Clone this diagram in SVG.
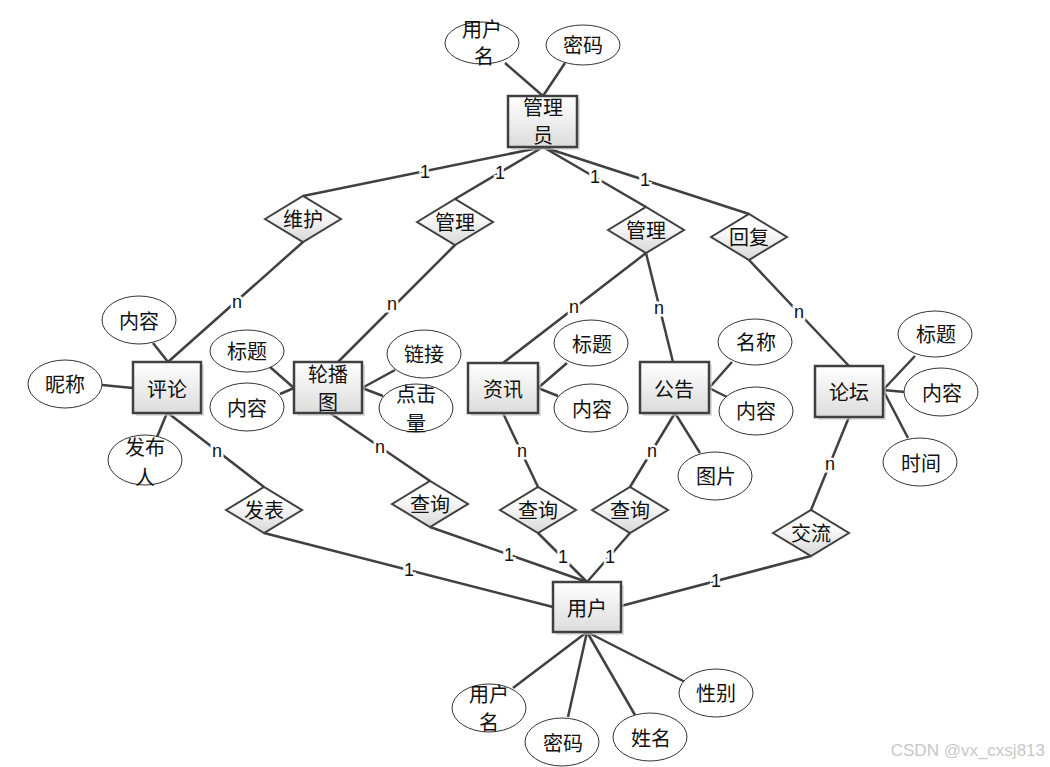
<svg xmlns="http://www.w3.org/2000/svg" width="1050" height="767" viewBox="0 0 1050 767">
<defs>
<linearGradient id="gEnt" x1="0" y1="0" x2="0" y2="1"><stop offset="0" stop-color="#ffffff"/><stop offset="1" stop-color="#dcdcdc"/></linearGradient>
<linearGradient id="gRel" x1="0" y1="0" x2="0" y2="1"><stop offset="0.3" stop-color="#ffffff"/><stop offset="1" stop-color="#d8d8d8"/></linearGradient>
<style>
.ent rect.b{fill:url(#gEnt);stroke:#404040;stroke-width:2.5}
.ent rect.s{fill:#c8c8c8;opacity:0.6}
.rel polygon{fill:url(#gRel);stroke:#404040;stroke-width:2}
.att ellipse{fill:#fff;stroke:#333;stroke-width:1}
text.cn{font-family:"Noto Sans CJK SC",sans-serif;font-size:20px;fill:#111;text-anchor:middle;dominant-baseline:central}
#conns line{stroke:#404040;stroke-width:2.5}
text.lb{font-family:"Liberation Sans",sans-serif;font-size:18px;fill:#111;text-anchor:middle;dominant-baseline:central;stroke:#fff;stroke-width:5;paint-order:stroke}
</style>
</defs>
<rect width="1050" height="767" fill="#fff"/>
<g id="conns">
<line x1="505" y1="63" x2="543" y2="96"/>
<line x1="565" y1="63" x2="543" y2="96"/>
<line x1="543" y1="147" x2="303" y2="196"/>
<line x1="543" y1="147" x2="455" y2="199"/>
<line x1="543" y1="147" x2="646" y2="207"/>
<line x1="543" y1="147" x2="749" y2="214"/>
<line x1="303" y1="242" x2="168" y2="362"/>
<line x1="455" y1="245" x2="338" y2="362"/>
<line x1="646" y1="253" x2="503" y2="363"/>
<line x1="646" y1="253" x2="673" y2="362"/>
<line x1="749" y1="260" x2="849" y2="366"/>
<line x1="153" y1="343" x2="168" y2="362"/>
<line x1="102" y1="385" x2="133" y2="388"/>
<line x1="167" y1="413" x2="157" y2="437"/>
<line x1="168" y1="413" x2="264" y2="487"/>
<line x1="270" y1="367" x2="294" y2="388"/>
<line x1="280" y1="394" x2="294" y2="388"/>
<line x1="362" y1="388" x2="395" y2="370"/>
<line x1="362" y1="388" x2="383" y2="396"/>
<line x1="330" y1="413" x2="430" y2="481"/>
<line x1="538" y1="388" x2="567" y2="363"/>
<line x1="538" y1="388" x2="558" y2="396"/>
<line x1="503" y1="413" x2="538" y2="487"/>
<line x1="709" y1="388" x2="732" y2="362"/>
<line x1="709" y1="388" x2="727" y2="397"/>
<line x1="675" y1="413" x2="700" y2="453"/>
<line x1="675" y1="413" x2="630" y2="487"/>
<line x1="883" y1="390" x2="915" y2="356"/>
<line x1="883" y1="390" x2="905" y2="392"/>
<line x1="883" y1="390" x2="908" y2="438"/>
<line x1="849" y1="417" x2="811" y2="510"/>
<line x1="264" y1="533" x2="553" y2="607"/>
<line x1="430" y1="527" x2="587" y2="582"/>
<line x1="538" y1="533" x2="587" y2="582"/>
<line x1="630" y1="533" x2="587" y2="582"/>
<line x1="811" y1="556" x2="621" y2="606"/>
<line x1="587" y1="632" x2="513" y2="688"/>
<line x1="587" y1="632" x2="568" y2="717"/>
<line x1="587" y1="632" x2="635" y2="715"/>
<line x1="587" y1="632" x2="693" y2="686"/>
<text class="lb" x="425" y="172">1</text>
<text class="lb" x="500" y="173">1</text>
<text class="lb" x="595" y="177">1</text>
<text class="lb" x="645" y="180">1</text>
<text class="lb" x="237" y="302">n</text>
<text class="lb" x="392" y="304">n</text>
<text class="lb" x="574" y="307">n</text>
<text class="lb" x="659" y="308">n</text>
<text class="lb" x="799" y="312">n</text>
<text class="lb" x="217" y="451">n</text>
<text class="lb" x="380" y="447">n</text>
<text class="lb" x="522" y="451">n</text>
<text class="lb" x="652" y="451">n</text>
<text class="lb" x="830" y="464">n</text>
<text class="lb" x="409" y="570">1</text>
<text class="lb" x="509" y="555">1</text>
<text class="lb" x="563" y="557">1</text>
<text class="lb" x="610" y="557">1</text>
<text class="lb" x="716" y="581">1</text>
</g>
<g id="e-admin" class="ent"><rect class="s" x="511" y="99" width="69" height="51"/><rect class="b" x="508" y="96" width="69" height="51"/><text class="cn" x="543" y="106">管理</text><text class="cn" x="543" y="134">员</text></g>
<g id="e-comment" class="ent"><rect class="s" x="136" y="365" width="68" height="51"/><rect class="b" x="133" y="362" width="68" height="51"/><text class="cn" x="167" y="388">评论</text></g>
<g id="e-carousel" class="ent"><rect class="s" x="297" y="365" width="68" height="51"/><rect class="b" x="294" y="362" width="68" height="51"/><text class="cn" x="328" y="373">轮播</text><text class="cn" x="328" y="401">图</text></g>
<g id="e-news" class="ent"><rect class="s" x="471" y="366" width="70" height="50"/><rect class="b" x="468" y="363" width="70" height="50"/><text class="cn" x="503" y="388">资讯</text></g>
<g id="e-notice" class="ent"><rect class="s" x="643" y="365" width="69" height="51"/><rect class="b" x="640" y="362" width="69" height="51"/><text class="cn" x="674" y="388">公告</text></g>
<g id="e-forum" class="ent"><rect class="s" x="818" y="369" width="68" height="51"/><rect class="b" x="815" y="366" width="68" height="51"/><text class="cn" x="849" y="391">论坛</text></g>
<g id="e-user" class="ent"><rect class="s" x="556" y="585" width="68" height="50"/><rect class="b" x="553" y="582" width="68" height="50"/><text class="cn" x="587" y="607">用户</text></g>
<g id="r-weihu" class="rel"><polygon points="265,219 303,196 341,219 303,242"/><text class="cn" x="303" y="218">维护</text></g>
<g id="r-guanli1" class="rel"><polygon points="417,222 455,199 493,222 455,245"/><text class="cn" x="455" y="221">管理</text></g>
<g id="r-guanli2" class="rel"><polygon points="608,230 646,207 684,230 646,253"/><text class="cn" x="646" y="229">管理</text></g>
<g id="r-huifu" class="rel"><polygon points="711,237 749,214 787,237 749,260"/><text class="cn" x="749" y="236">回复</text></g>
<g id="r-fabiao" class="rel"><polygon points="226,510 264,487 302,510 264,533"/><text class="cn" x="264" y="509">发表</text></g>
<g id="r-chaxun1" class="rel"><polygon points="392,504 430,481 468,504 430,527"/><text class="cn" x="430" y="503">查询</text></g>
<g id="r-chaxun2" class="rel"><polygon points="500,510 538,487 576,510 538,533"/><text class="cn" x="538" y="509">查询</text></g>
<g id="r-chaxun3" class="rel"><polygon points="592,510 630,487 668,510 630,533"/><text class="cn" x="630" y="509">查询</text></g>
<g id="r-jiaoliu" class="rel"><polygon points="773,533 811,510 849,533 811,556"/><text class="cn" x="811" y="532">交流</text></g>
<g id="a-admin-name" class="att"><ellipse cx="482" cy="43" rx="37" ry="21"/><text class="cn" x="482" y="28">用户</text><text class="cn" x="484" y="55">名</text></g>
<g id="a-admin-pwd" class="att"><ellipse cx="583" cy="45" rx="37" ry="20"/><text class="cn" x="583" y="44">密码</text></g>
<g id="a-c-content" class="att"><ellipse cx="139" cy="320" rx="37" ry="24"/><text class="cn" x="139" y="320">内容</text></g>
<g id="a-c-nick" class="att"><ellipse cx="65" cy="384" rx="37" ry="24"/><text class="cn" x="65" y="383">昵称</text></g>
<g id="a-c-pub" class="att"><ellipse cx="145" cy="460" rx="37" ry="25"/><text class="cn" x="145" y="446">发布</text><text class="cn" x="145" y="476">人</text></g>
<g id="a-k-title" class="att"><ellipse cx="247" cy="351" rx="37" ry="21"/><text class="cn" x="247" y="350">标题</text></g>
<g id="a-k-content" class="att"><ellipse cx="247" cy="407" rx="37" ry="24"/><text class="cn" x="247" y="407">内容</text></g>
<g id="a-k-link" class="att"><ellipse cx="424" cy="354" rx="37" ry="24"/><text class="cn" x="424" y="353">链接</text></g>
<g id="a-k-clicks" class="att"><ellipse cx="416" cy="408" rx="37" ry="24"/><text class="cn" x="416" y="393">点击</text><text class="cn" x="416" y="422">量</text></g>
<g id="a-n-title" class="att"><ellipse cx="591" cy="343" rx="37" ry="23"/><text class="cn" x="592" y="343">标题</text></g>
<g id="a-n-content" class="att"><ellipse cx="591" cy="408" rx="37" ry="24"/><text class="cn" x="592" y="408">内容</text></g>
<g id="a-g-name" class="att"><ellipse cx="755" cy="342" rx="37" ry="23"/><text class="cn" x="756" y="341">名称</text></g>
<g id="a-g-content" class="att"><ellipse cx="756" cy="411" rx="37" ry="24"/><text class="cn" x="756" y="410">内容</text></g>
<g id="a-g-pic" class="att"><ellipse cx="715" cy="476" rx="37" ry="24"/><text class="cn" x="716" y="475">图片</text></g>
<g id="a-f-title" class="att"><ellipse cx="935" cy="334" rx="37" ry="23"/><text class="cn" x="936" y="333">标题</text></g>
<g id="a-f-content" class="att"><ellipse cx="941" cy="392" rx="37" ry="24"/><text class="cn" x="942" y="392">内容</text></g>
<g id="a-f-time" class="att"><ellipse cx="920" cy="462" rx="37" ry="24"/><text class="cn" x="921" y="462">时间</text></g>
<g id="a-u-name" class="att"><ellipse cx="489" cy="708" rx="37" ry="24"/><text class="cn" x="489" y="693">用户</text><text class="cn" x="489" y="721">名</text></g>
<g id="a-u-pwd" class="att"><ellipse cx="562" cy="742" rx="37" ry="24"/><text class="cn" x="563" y="742">密码</text></g>
<g id="a-u-real" class="att"><ellipse cx="650" cy="737" rx="37" ry="24"/><text class="cn" x="651" y="737">姓名</text></g>
<g id="a-u-sex" class="att"><ellipse cx="716" cy="693" rx="37" ry="24"/><text class="cn" x="716" y="692">性别</text></g>
<text x="1045" y="750" font-family="Liberation Sans, sans-serif" font-size="17" fill="#c8c8c8" text-anchor="end" dominant-baseline="central">CSDN @vx_cxsj813</text>
</svg>
